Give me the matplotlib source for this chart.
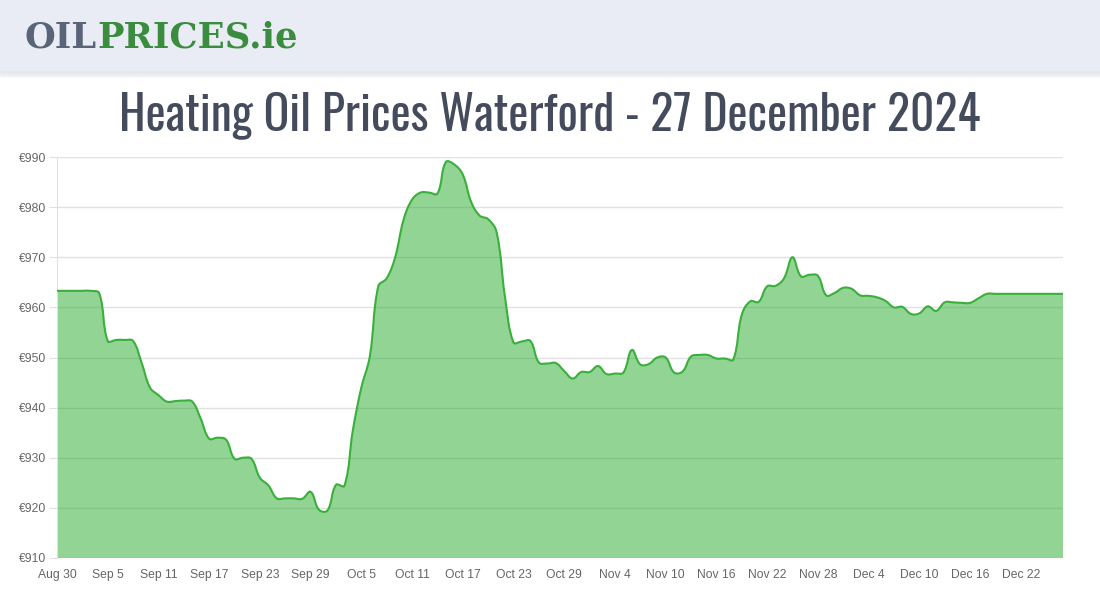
import numpy as np
import pandas as pd
import matplotlib
matplotlib.use("Agg")
import matplotlib.pyplot as plt
from matplotlib import font_manager
from matplotlib.path import Path
from matplotlib.patches import PathPatch, Rectangle

# --- data: daily heating oil price (EUR), Aug 30 -> Dec 27 2024 ---
start_date = "2024-08-30"
end_date = "2024-12-27"
prices = [
    963.3, 963.3, 963.3, 963.3, 963.3, 962.8, 953.3, 953.5, 953.5, 953.3,
    949.0, 944.0, 942.5, 941.2, 941.3, 941.4, 941.2, 937.8, 933.8, 934.0,
    933.6, 929.8, 930.0, 929.8, 926.0, 924.5, 921.9, 921.9, 921.9, 921.8,
    923.2, 919.6, 919.5, 924.6, 924.4, 935.5, 944.0, 950.2, 964.2, 965.8,
    970.0, 977.5, 981.5, 982.9, 982.9, 982.7, 989.0, 988.5, 986.5, 981.0,
    978.3, 977.6, 975.0, 962.0, 953.0, 953.2, 953.3, 949.0, 948.8, 948.9,
    947.3, 945.8, 947.1, 947.1, 948.3, 946.7, 946.8, 947.0, 951.5, 948.6,
    948.7, 950.0, 950.0, 947.0, 947.2, 950.2, 950.5, 950.5, 949.8, 949.8,
    949.6, 958.5, 961.2, 961.1, 964.2, 964.3, 965.8, 970.0, 966.2, 966.5,
    966.3, 962.4, 962.9, 963.9, 963.7, 962.4, 962.3, 962.0, 961.3, 960.0,
    960.1, 958.7, 958.8, 960.2, 959.3, 961.0, 961.0, 960.9, 960.9, 961.8,
    962.7, 962.7, 962.7, 962.7, 962.7, 962.7, 962.7, 962.7, 962.7, 962.7,
]
tick_labels = ["Aug 30", "Sep 5", "Sep 11", "Sep 17", "Sep 23", "Sep 29",
               "Oct 5", "Oct 11", "Oct 17", "Oct 23", "Oct 29", "Nov 4",
               "Nov 10", "Nov 16", "Nov 22", "Nov 28", "Dec 4", "Dec 10",
               "Dec 16", "Dec 22"]
y_ticks = [910, 920, 930, 940, 950, 960, 970, 980, 990]
title = "Heating Oil Prices Waterford - 27 December 2024"

dates = pd.date_range(start_date, end_date, freq="D")
df = pd.DataFrame({"date": dates, "price": prices})
df["day"] = (df["date"] - df["date"].iloc[0]).dt.days

W, H = 1100, 600
fig = plt.figure(figsize=(W / 100, H / 100), dpi=100)
fig.patch.set_facecolor("white")

# narrowest family we can find for the title
installed = {f.name for f in font_manager.fontManager.ttflist}
title_family = "DejaVu Sans"
for cand in ["Oswald", "Roboto Condensed", "Liberation Sans Narrow",
             "DejaVu Sans Condensed", "Open Sans Condensed", "Roboto"]:
    if cand in installed:
        title_family = cand
        break

# --- header band ---
for i in range(8):
    fig.patches.append(Rectangle((0, (H - 70 - i) / H), 1, 1 / H,
                                 transform=fig.transFigure,
                                 color="#dfe2ea", alpha=0.5 * (1 - i / 8),
                                 zorder=0))
fig.patches.append(Rectangle((0, (H - 70) / H), 1, 70 / H,
                             transform=fig.transFigure, color="#e9ecf4",
                             zorder=1))
logo_font = dict(family=["DejaVu Serif"], fontweight="bold", fontsize=25.5)
t1 = fig.text(25 / W, 1 - 38 / H, "OIL", color="#5a6478", va="center",
              ha="left", **logo_font)
fig.canvas.draw()
bb = t1.get_window_extent()
fig.text(bb.x1 / W, 1 - 38 / H, "PRICES.ie", color="#3a8c3f", va="center",
         ha="left", **logo_font)

# fit the title to the reference width (~860 px)
tt = fig.text(550 / W, 1 - 115 / H, title, ha="center", va="center",
              color="#434b5c", fontsize=30, fontweight="bold",
              family=[title_family, "DejaVu Sans"])
fig.canvas.draw()
tw = tt.get_window_extent().width
tt.set_fontsize(min(40, 30 * 860 / tw))

# --- chart ---
ax = fig.add_axes([57 / W, 42 / H, 1006 / W, 401 / H])
ax.set_xlim(0, df["day"].iloc[-1])
ax.set_ylim(910, 990)

x = df["day"].to_numpy(dtype=float)
y = df["price"].to_numpy(dtype=float)

# chart.js style bezier (tension 0.4) computed in pixel space
fig.canvas.draw()
pts = ax.transData.transform(np.column_stack([x, y]))
tension = 0.4
cps_prev = pts.copy()
cps_next = pts.copy()
for i in range(1, len(pts) - 1):
    p0, p1, p2 = pts[i - 1], pts[i], pts[i + 1]
    d01 = np.hypot(*(p1 - p0))
    d12 = np.hypot(*(p2 - p1))
    tot = d01 + d12
    s01 = d01 / tot if tot else 0
    s12 = d12 / tot if tot else 0
    cps_prev[i] = p1 - tension * s01 * (p2 - p0)
    cps_next[i] = p1 + tension * s12 * (p2 - p0)
verts = [pts[0]]
codes = [Path.MOVETO]
for i in range(len(pts) - 1):
    verts += [cps_next[i], cps_prev[i + 1], pts[i + 1]]
    codes += [Path.CURVE4] * 3
inv = ax.transData.inverted()
verts = inv.transform(np.array(verts))
line_path = Path(verts, codes)

fill_verts = np.vstack([verts, [[x[-1], 910], [x[0], 910], verts[0]]])
fill_codes = codes + [Path.LINETO, Path.LINETO, Path.CLOSEPOLY]
ax.add_patch(PathPatch(Path(fill_verts, fill_codes), facecolor=(0.14, 0.67, 0.16),
                       alpha=0.5, edgecolor="none", zorder=2))
ax.add_patch(PathPatch(line_path, facecolor="none", edgecolor="#39b03b",
                       linewidth=1.5, zorder=3))

ax.set_yticks(y_ticks)
ax.set_yticklabels([f"€{v}" for v in y_ticks])
ax.set_xticks(np.arange(0, 6 * len(tick_labels), 6))
ax.set_xticklabels(tick_labels)
ax.grid(axis="y", color="#e1e1e1", linewidth=1, zorder=1)
ax.set_axisbelow(True)
for s in ["top", "right", "bottom"]:
    ax.spines[s].set_visible(False)
ax.spines["left"].set_color("#e1e1e1")
ax.tick_params(axis="y", length=6, color="#e1e1e1", pad=2,
               labelsize=8.7, labelcolor="#666666")
ax.tick_params(axis="x", length=0, pad=8, labelsize=8.7, labelcolor="#666666")
for lab in ax.get_xticklabels() + ax.get_yticklabels():
    lab.set_family(["Liberation Sans", "DejaVu Sans"])

fig.savefig("out.png", dpi=100)
